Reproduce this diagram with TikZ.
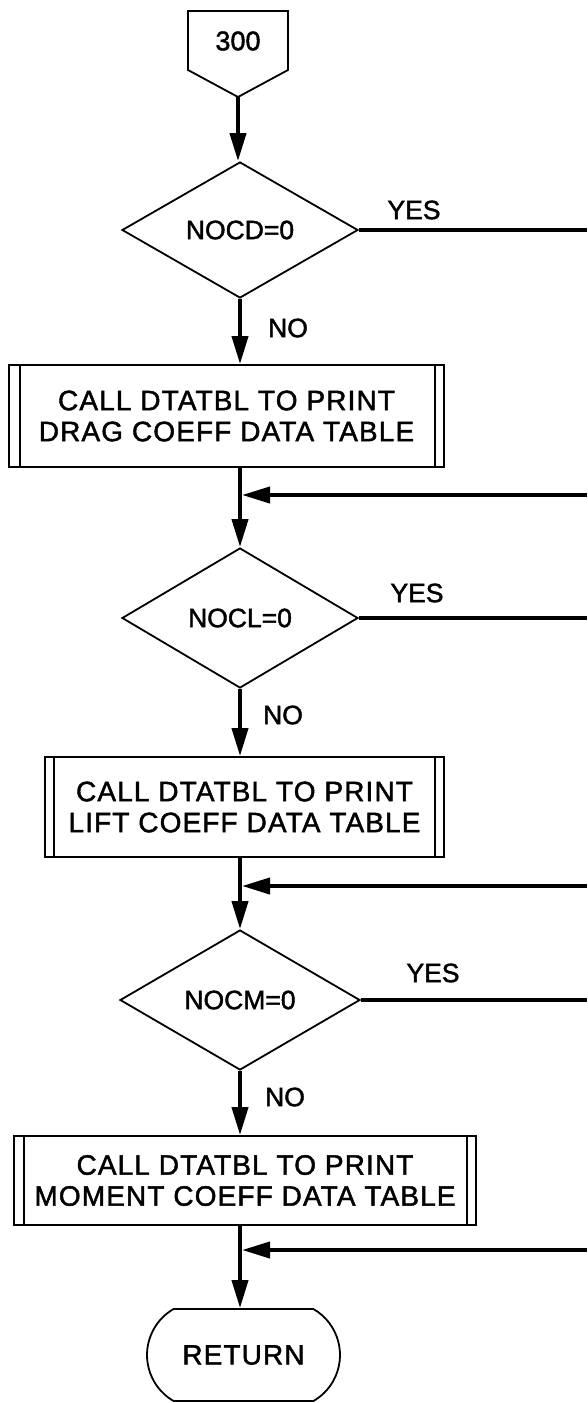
\documentclass[tikz,border=0pt]{standalone}
\usepackage{fontspec}
\setmainfont{Liberation Sans}[FakeBold=1.6]
\newfontfamily\boxfont{Liberation Sans}[LetterSpace=4,FakeBold=1.6]
\usetikzlibrary{shapes.geometric,shapes.misc,arrows.meta}
\begin{document}
\begin{tikzpicture}[x=1pt,y=-1pt,
  thinline/.style={line width=1.8pt},
  flow/.style={line width=4pt,-{Triangle[length=28pt,width=16pt]}},
  flowline/.style={line width=4pt},
  decision/.style={diamond, draw, thinline, inner sep=0pt, minimum width=236pt, minimum height=136pt, font=\fontsize{26.5}{30}\selectfont},
  process/.style={rectangle, draw, thinline, inner sep=0pt, align=center, font=\boxfont\fontsize{28}{31}\selectfont},
  lbl/.style={inner sep=0pt, font=\fontsize{26.5}{30}\selectfont},
  term/.style={rounded rectangle, rounded rectangle arc length=120, draw, thinline, minimum width=193pt, minimum height=92pt, inner sep=0pt, font=\boxfont\fontsize{28}{30}\selectfont}
]
\fill[white] (0,0) rectangle (587,1403);
\useasboundingbox (0,0) rectangle (587,1403);

% off-page connector 300
\draw[thinline] (188,11) -- (288,11) -- (288,70) -- (238,97) -- (188,70) -- cycle;
\node[lbl, font=\fontsize{27}{30}\selectfont] (c300) at (238,41) {300};
\coordinate (c300tip) at (238,97);

% decision 1
\node[decision] (d1) at (240,230) {NOCD=0};
\coordinate (y1) at (587,230);
\node[lbl] (yes1) at (414,210) {YES};
\node[lbl] (no1) at (288,328) {NO};

% process 1
\node[process, minimum width=435pt, minimum height=102pt] (b1) at (226.5,416)
  {CALL DTATBL TO PRINT\\DRAG COEFF DATA TABLE};
\draw[thinline] ([xshift=12pt]b1.north west) -- ([xshift=12pt]b1.south west);
\draw[thinline] ([xshift=-10pt]b1.north east) -- ([xshift=-10pt]b1.south east);
\coordinate (r1) at (587,495);
\coordinate (m1) at (240,495);

% decision 2
\node[decision, minimum height=140pt] (d2) at (240,618) {NOCL=0};
\coordinate (y2) at (587,618);
\node[lbl] (yes2) at (417,593) {YES};
\node[lbl] (no2) at (283,715) {NO};

% process 2
\node[process, minimum width=399pt, minimum height=100pt] (b2) at (244.5,807)
  {CALL DTATBL TO PRINT\\LIFT COEFF DATA TABLE};
\draw[thinline] ([xshift=10pt]b2.north west) -- ([xshift=10pt]b2.south west);
\draw[thinline] ([xshift=-10pt]b2.north east) -- ([xshift=-10pt]b2.south east);
\coordinate (r2) at (587,886);
\coordinate (m2) at (240,886);

% decision 3
\node[decision, minimum width=240pt, minimum height=140pt] (d3) at (240,1000) {NOCM=0};
\coordinate (y3) at (587,1000);
\node[lbl] (yes3) at (433,973) {YES};
\node[lbl] (no3) at (285,1097) {NO};

% process 3
\node[process, minimum width=462pt, minimum height=89pt] (b3) at (245,1180.5)
  {CALL DTATBL TO PRINT\\MOMENT COEFF DATA TABLE};
\draw[thinline] ([xshift=11pt]b3.north west) -- ([xshift=11pt]b3.south west);
\draw[thinline] ([xshift=-10pt]b3.north east) -- ([xshift=-10pt]b3.south east);
\coordinate (r3) at (587,1250);
\coordinate (m3) at (240,1250);

% terminal
\node[term] (ret) at (243.5,1355) {RETURN};

% connectors
\draw[flow] (c300tip) -- (c300tip |- d1.north);
\draw[flowline] (d1.east) -- (y1);
\draw[flow] (d1.south) -- (d1.south |- b1.north);
\draw[flow] (d2.north |- b1.south) -- (d2.north);
\draw[flow, shorten >=2pt] (r1) -- (m1);
\draw[flowline] (d2.east) -- (y2);
\draw[flow] (d2.south) -- (d2.south |- b2.north);
\draw[flow] (d3.north |- b2.south) -- (d3.north);
\draw[flow, shorten >=2pt] (r2) -- (m2);
\draw[flowline] (d3.east) -- (y3);
\draw[flow] (d3.south) -- (d3.south |- b3.north);
\draw[flow] (d3.south |- b3.south) -- (d3.south |- ret.north);
\draw[flow, shorten >=2pt] (r3) -- (m3);
\end{tikzpicture}
\end{document}
